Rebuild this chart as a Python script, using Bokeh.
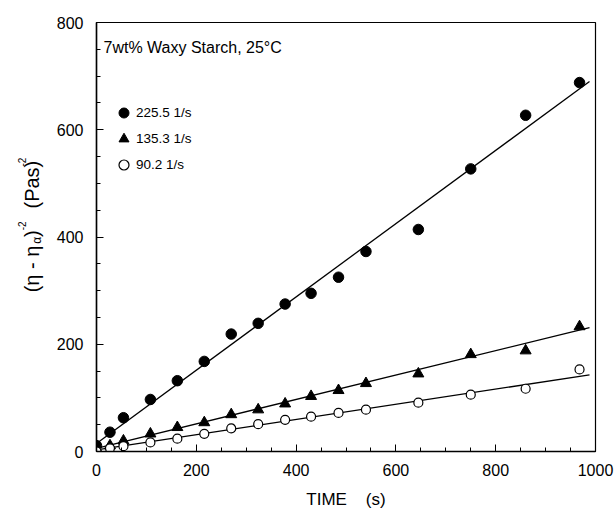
import math
from bokeh.plotting import figure
from bokeh.layouts import row
from bokeh.models import Label, Legend, LegendItem, SingleIntervalTicker, Range1d
from bokeh.embed import file_html
from bokeh.resources import INLINE

# ---- data ----
time_s = [0, 27, 54, 108, 162, 216, 270, 324, 378, 430, 485, 540, 645, 750, 860, 968]
rate_225 = [11, 36, 63, 97, 132, 168, 219, 239, 275, 295, 325, 373, 414, 527, 627, 688]
rate_135 = [5, 11, 20, 33, 45, 54, 69, 78, 89, 103, 114, 127, 145, 181, 188, 233]
rate_90 = [0, 6, 10, 17, 24, 33, 43, 51, 59, 65, 72, 78, 91, 106, 117, 153]

fit_t = [0, 988]
fit_225 = [15, 690]
fit_135 = [6, 231]
fit_90 = [3, 143]

labels = ["225.5 1/s", "135.3 1/s", "90.2 1/s"]
x_ticks_interval = 200
y_ticks_interval = 200

# ---- layout (page pixels) ----
PAGE_W, PAGE_H = 616, 512
LW = 50                      # width of the strip holding the y title
FL, FR, FT, FB = 96, 595, 22, 451
FONT = "Liberation Sans"

def dx(px):
    return (px - FL) / (FR - FL) * 1000.0

def dy(py):
    return (FB - py) / (FB - FT) * 800.0

W = PAGE_W - LW
p = figure(width=W, height=PAGE_H, output_backend="svg", toolbar_location=None,
           x_range=Range1d(0, 1000), y_range=Range1d(0, 800),
           min_border_left=FL - LW, min_border_right=PAGE_W - FR,
           min_border_top=FT, min_border_bottom=PAGE_H - FB,
           background_fill_color="white", border_fill_color="white")
p.grid.visible = False
p.outline_line_color = "black"
p.outline_line_width = 1.2

p.xaxis.ticker = SingleIntervalTicker(interval=x_ticks_interval, num_minor_ticks=4)
p.yaxis.ticker = SingleIntervalTicker(interval=y_ticks_interval, num_minor_ticks=4)
for ax in (p.xaxis[0], p.yaxis[0]):
    ax.axis_line_color = "black"
    ax.axis_line_width = 1.5
    ax.major_tick_in = 7
    ax.major_tick_out = 0
    ax.minor_tick_in = 4
    ax.minor_tick_out = 0
    ax.major_tick_line_color = "black"
    ax.minor_tick_line_color = "black"
    ax.major_label_text_font = FONT
    ax.major_label_text_font_size = "16px"
    ax.major_label_text_color = "black"

p.xaxis.major_label_standoff = 12
p.yaxis.major_label_standoff = 13
p.xaxis.axis_label = "TIME\u00a0\u00a0\u00a0\u00a0(s)"
p.xaxis.axis_label_text_font = FONT
p.xaxis.axis_label_text_font_size = "17px"
p.xaxis.axis_label_text_font_style = "normal"
p.xaxis.axis_label_text_color = "black"
p.xaxis.axis_label_standoff = 11

# fitted lines
for fy in (fit_225, fit_135, fit_90):
    p.line(fit_t, fy, line_color="black", line_width=1.3)

r1 = p.scatter(time_s, rate_225, marker="circle", size=10.5, fill_color="black", line_color="black")
r2 = p.scatter(time_s, rate_135, marker="triangle", size=11, fill_color="black", line_color="black")
r3 = p.scatter(time_s, rate_90, marker="circle", size=9, fill_color="white", line_color="black", line_width=1.2)

legend = Legend(items=[LegendItem(label=labels[0], renderers=[r1]),
                       LegendItem(label=labels[1], renderers=[r2]),
                       LegendItem(label=labels[2], renderers=[r3])],
                location=(15, 274), padding=0, margin=0, spacing=1,
                glyph_width=25, glyph_height=25, label_height=20, label_standoff=0,
                border_line_alpha=0, background_fill_alpha=0,
                label_text_font=FONT, label_text_font_size="13.5px", label_text_color="black")
p.add_layout(legend)

p.add_layout(Label(x=dx(103), y=dy(47), text="7wt% Waxy Starch, 25°C",
                   text_font=FONT, text_font_size="16px", text_baseline="middle",
                   text_color="black"))

# ---- strip with the rotated y title (sub/superscripts as separate pieces) ----
t = figure(width=LW, height=PAGE_H, output_backend="svg", toolbar_location=None,
           x_range=Range1d(0, LW), y_range=Range1d(0, PAGE_H),
           x_axis_type=None, y_axis_type=None, min_border=0,
           background_fill_color="white", border_fill_color="white")
t.outline_line_color = None
t.grid.visible = False

MAIN_B, SUB_B, SUP_B = 31, 36, 21
pieces = [("(η - η", 20, 322, MAIN_B), ("α", 12, 264, SUB_B), (")", 20, 256, MAIN_B),
          ("-2", 10, 248, SUP_B), ("(Pas)", 20, 222, MAIN_B), ("-2", 10, 172, SUP_B)]
for txt, fs, py, bx in pieces:
    t.add_layout(Label(x=bx, y=PAGE_H - py, text=txt, angle=math.pi / 2,
                       text_font=FONT, text_font_size=f"{fs}px", text_align="left",
                       text_baseline="alphabetic", text_color="black"))

layout = row(t, p)
open("out.html", "w").write(file_html(layout, INLINE))
